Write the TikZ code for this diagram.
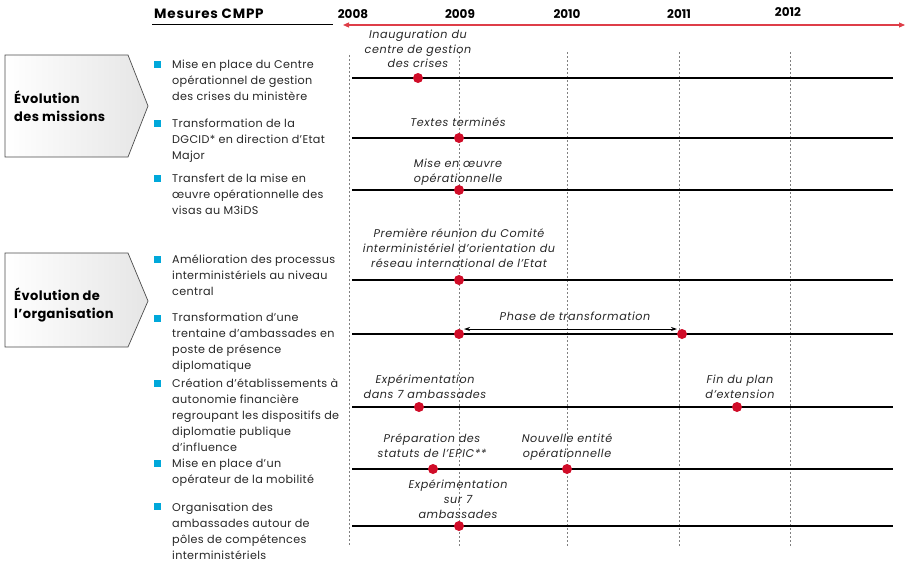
\documentclass[tikz,border=0pt]{standalone}
\usepackage{fontspec}
\setmainfont{Poppins}
\usetikzlibrary{arrows.meta}
\definecolor{dotred}{RGB}{208,12,40}
\definecolor{axisred}{RGB}{222,62,72}
\definecolor{bulletcyan}{RGB}{0,168,218}
\newcommand{\track}[1]{\addfontfeature{LetterSpace=#1}}
\begin{document}
\begin{tikzpicture}[x=1pt,y=-1pt,
  track/.style={line width=2.2pt,black},
  yearline/.style={gray,line width=0.6pt,dash pattern=on 2pt off 2pt},
  milestone/.style={circle,fill=dotred,inner sep=0pt,minimum size=10pt},
  event/.style={font=\itshape\fontsize{11.2}{14.6}\selectfont\track{5},align=center,anchor=north,inner sep=0pt,text=black!85},
  item/.style={font=\fontsize{11.2}{16}\selectfont\track{3},align=left,anchor=north west,inner sep=0pt,text=black!85},
  bulletsq/.style={fill=bulletcyan,minimum size=7pt,inner sep=0pt},
  year/.style={font=\bfseries\fontsize{12}{14}\selectfont,inner sep=0pt},
  group/.style={draw=gray!60!black,line width=0.7pt,left color=white,right color=gray!20},
  grouplabel/.style={font=\bfseries\fontsize{13}{18}\selectfont\track{3},align=left,anchor=west,inner sep=0pt}]
\useasboundingbox (0,0) rectangle (905,565);

% header and time axis
\node[font=\bfseries\fontsize{13.5}{15}\selectfont\track{6},anchor=west,inner sep=0pt] (head) at (154,14) {Mesures CMPP};
\draw[line width=0.6pt] (152,24) -- (333,24);
\node[year] (y8) at (353,14) {2008};
\node[year] (y9) at (460,14) {2009};
\node[year] (y10) at (567,14) {2010};
\node[year] (y11) at (679,14) {2011};
\node[year] (y12) at (788,12) {2012};
\coordinate (axl) at (343,25);
\coordinate (axr) at (905,25);
\draw[axisred,line width=1.1pt,{Triangle[length=6pt,width=5pt]}-{Triangle[length=6pt,width=5pt]}] (axl) -- (axr);

% year grid
\draw[yearline] (349,55) -- (349,545);
\foreach \x in {459,567,679,790} \draw[yearline] (\x,52) -- (\x,546);

% group boxes
\draw[group] (5,55) -- (128,55) -- (148,106) -- (128,157) -- (5,157) -- cycle;
\node[grouplabel] (g1) at (14,106) {Évolution\\des missions};
\draw[group] (5,253) -- (128,253) -- (148,301) -- (128,347) -- (5,347) -- cycle;
\node[grouplabel] (g2) at (14,305) {Évolution de\\l'organisation};

% measures
\foreach \n/\y in {1/64,2/123,3/178,4/259,5/318,6/383,7/463,8/506}
  \node[bulletsq] (b\n) at (157,\y) {};
\node[item] (i1) at (172,60) {Mise en place du Centre\\opérationnel de gestion\\des crises du ministère};
\node[item] (i2) at (172,119) {Transformation de la\\DGCID* en direction d'Etat\\Major};
\node[item] (i3) at (172,174) {Transfert de la mise en\\œuvre opérationnelle des\\visas au M3iDS};
\node[item] (i4) at (172,255) {Amélioration des processus\\interministériels au niveau\\central};
\node[item] (i5) at (172,313) {Transformation d’une\\trentaine d’ambassades en\\poste de présence\\diplomatique};
\node[item] (i6) at (172,379) {Création d’établissements à\\autonomie financière\\regroupant les dispositifs de\\diplomatie publique\\d’influence};
\node[item] (i7) at (172,459) {Mise en place d’un\\opérateur de la mobilité};
\node[item] (i8) at (172,503) {Organisation des\\ambassades autour de\\pôles de compétences\\interministériels};

% tracks
\foreach \n/\y in {1/78,2/138,3/190,4/280,5/334,6/407,7/469,8/526} {
  \coordinate (s\n) at (352,\y);
  \coordinate (e\n) at (893,\y);
  \draw[track] (s\n) -- (e\n);
}

% milestones
\node[milestone] (d1) at (418,78) {};
\node[milestone] (d2) at (459,138) {};
\node[milestone] (d3) at (459,190) {};
\node[milestone] (d4) at (459,280) {};
\node[milestone] (d5a) at (459,334) {};
\node[milestone] (d5b) at (682,334) {};
\node[milestone] (d6a) at (419,407) {};
\node[milestone] (d6b) at (737,407) {};
\node[milestone] (d7a) at (433,469) {};
\node[milestone] (d7b) at (567,469) {};
\node[milestone] (d8) at (459,526) {};

% phase span
\draw[{Stealth[length=6pt,width=4pt]}-{Stealth[length=6pt,width=4pt]},line width=0.8pt]
  ([xshift=5pt,yshift=5pt]d5a.center) -- ([xshift=-5pt,yshift=5pt]d5b.center);

% milestone labels
\node[event] (l1) at (418,30) {Inauguration du\\centre de gestion\\des crises};
\node[event] (l2) at (458,118) {Textes terminés};
\node[event] (l3) at (458,159) {Mise en œuvre\\opérationnelle};
\node[event] (l4) at (459,229) {Première réunion du Comité\\interministériel d'orientation du\\réseau international de l'Etat};
\node[event] (l5) at (575,312) {Phase de transformation};
\node[event] (l6a) at (425,375) {Expérimentation\\dans 7 ambassades};
\node[event] (l6b) at (740,375) {Fin du plan\\d’extension};
\node[event] (l7a) at (432,434) {Préparation des\\statuts de l’EPIC**};
\node[event] (l7b) at (567,434) {Nouvelle entité\\opérationnelle};
\node[event] (l8) at (458,480) {Expérimentation\\sur 7\\ambassades};
\end{tikzpicture}
\end{document}
